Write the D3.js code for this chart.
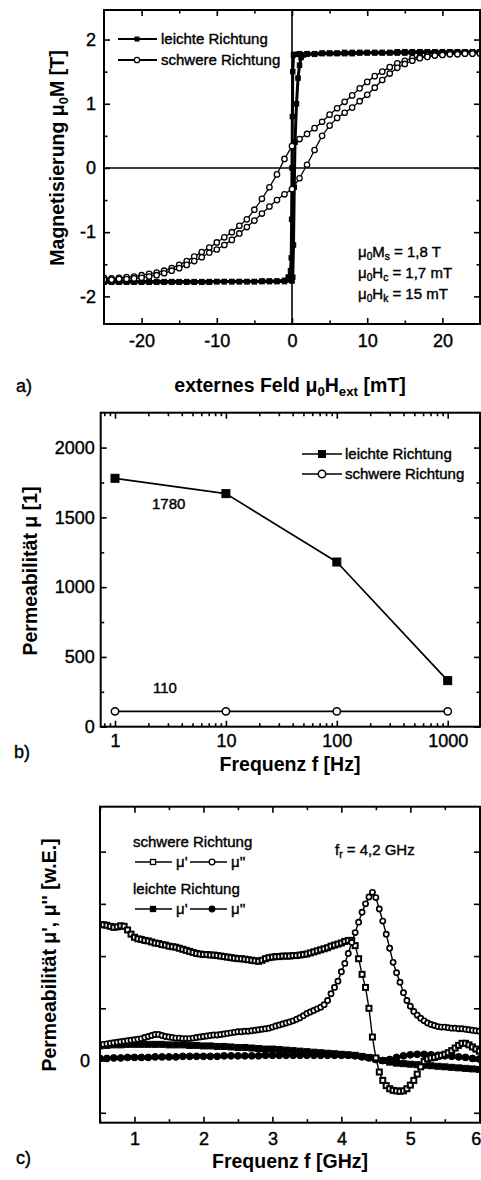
<!DOCTYPE html>
<html>
<head>
<meta charset="utf-8">
<script src="https://cdn.jsdelivr.net/npm/d3@7"></script>
<style>
  body { margin: 0; background: #fff; }
  svg { display: block; }
  text { font-family: "Liberation Sans", Arial, sans-serif; fill: #000; }
  text.reg { stroke: #000; stroke-width: 0.4px; }
</style>
</head>
<body>
<svg id="fig" width="481" height="1180"></svg>
<script>
// ---------- (a) hysteresis loops ----------
// hard axis, field swept down from +25 mT to -25 mT
const hardDescH = [25,24,23,22,21,20,19,18,17,16,15,14,13,12,11,10,9,8,7,6,5,4,3,2,1,0,-1,-2,-3,-4,-5,-6,-7,-8,-9,-10,-11,-12,-13,-14,-15,-16,-17,-18,-19,-20,-21,-22,-23,-24,-25];
const hardDescM = [1.80,1.80,1.79,1.79,1.78,1.77,1.76,1.75,1.73,1.71,1.67,1.63,1.57,1.50,1.43,1.34,1.24,1.13,1.03,0.93,0.83,0.72,0.62,0.53,0.45,0.34,0.14,-0.10,-0.30,-0.48,-0.65,-0.80,-0.90,-1.00,-1.08,-1.16,-1.24,-1.31,-1.38,-1.45,-1.51,-1.56,-1.60,-1.63,-1.65,-1.67,-1.69,-1.70,-1.71,-1.72,-1.71];
// hard axis, field swept up from -25 mT to +25 mT
const hardAscH = [-25,-24,-23,-22,-21,-20,-19,-18,-17,-16,-15,-14,-13,-12,-11,-10,-9,-8,-7,-6,-5,-4,-3,-2,-1,0,1,2,3,4,5,6,7,8,9,10,11,12,13,14,15,16,17,18,19,20,21,22,23,24,25];
const hardAscM = [-1.74,-1.74,-1.73,-1.73,-1.72,-1.71,-1.69,-1.67,-1.64,-1.60,-1.56,-1.51,-1.45,-1.39,-1.32,-1.27,-1.20,-1.12,-1.02,-0.92,-0.82,-0.71,-0.60,-0.50,-0.41,-0.33,-0.16,0.05,0.28,0.50,0.66,0.78,0.86,0.94,1.04,1.14,1.25,1.37,1.47,1.56,1.62,1.67,1.71,1.73,1.75,1.76,1.77,1.77,1.78,1.78,1.78];
// easy axis, field swept down
const easyDescH = [25,24,23,22,21,20,19,18,17,16,15,14,13,12,11,10,9,8,7,6,5,4,3,2,1,0.5,0.2,0.1,0.05,0,-0.05,-0.1,-0.2,-0.5,-1,-2,-3,-4,-5,-6,-7,-8,-9,-10,-11,-12,-13,-14,-15,-16,-17,-18,-19,-20,-21,-22,-23,-24,-25];
const easyDescM = [1.81,1.81,1.81,1.81,1.81,1.81,1.81,1.81,1.81,1.81,1.81,1.81,1.80,1.80,1.80,1.80,1.80,1.80,1.80,1.79,1.79,1.79,1.78,1.78,1.78,1.77,1.76,1.50,0.80,0.00,-0.80,-1.40,-1.60,-1.70,-1.75,-1.76,-1.76,-1.76,-1.77,-1.77,-1.77,-1.77,-1.77,-1.77,-1.77,-1.77,-1.77,-1.77,-1.77,-1.77,-1.77,-1.77,-1.77,-1.77,-1.77,-1.77,-1.77,-1.77,-1.77];
// easy axis, field swept up
const easyAscH = [-25,-24,-23,-22,-21,-20,-19,-18,-17,-16,-15,-14,-13,-12,-11,-10,-9,-8,-7,-6,-5,-4,-3,-2,-1,0,0.1,0.2,0.3,0.4,0.6,0.8,1.0,1.2,1.5,2,3,4,5,6,7,8,9,10,11,12,13,14,15,16,17,18,19,20,21,22,23,24,25];
const easyAscM = [-1.78,-1.78,-1.78,-1.78,-1.78,-1.78,-1.78,-1.78,-1.78,-1.78,-1.78,-1.78,-1.78,-1.78,-1.78,-1.77,-1.77,-1.77,-1.77,-1.77,-1.77,-1.77,-1.77,-1.77,-1.77,-1.76,-1.70,-1.20,-0.30,0.40,1.00,1.40,1.60,1.72,1.76,1.77,1.77,1.78,1.78,1.78,1.78,1.78,1.79,1.79,1.79,1.79,1.79,1.79,1.79,1.79,1.80,1.80,1.80,1.80,1.80,1.80,1.80,1.80,1.80];
const aTicksX = [-20,-10,0,10,20];
const aMinorX = [-15,-5,5,15];
const aTicksY = [-2,-1,0,1,2];
const aMinorY = [-1.5,-0.5,0.5,1.5];

// ---------- (b) low-frequency permeability ----------
const freqHz = [1,10,100,1000];
const muEasyHz = [1780,1670,1180,330];
const muHardHz = [110,110,110,110];
const bTicksX = [1,10,100,1000];
const bTicksY = [0,500,1000,1500,2000];
const bMinorY = [250,750,1250,1750];

// ---------- (c) high-frequency permeability ----------
const fHard = [0.50,0.55,0.60,0.65,0.70,0.75,0.80,0.85,0.90,0.95,1.00,1.05,1.10,1.15,1.20,1.25,1.30,1.35,1.40,1.45,1.50,1.55,1.60,1.65,1.70,1.75,1.80,1.85,1.90,1.95,2.00,2.05,2.10,2.15,2.20,2.25,2.30,2.35,2.40,2.45,2.50,2.55,2.60,2.65,2.70,2.75,2.80,2.85,2.90,2.95,3.00,3.05,3.10,3.15,3.20,3.25,3.30,3.35,3.40,3.45,3.50,3.55,3.60,3.65,3.70,3.75,3.80,3.85,3.90,3.95,4.00,4.05,4.10,4.15,4.20,4.25,4.30,4.35,4.40,4.45,4.50,4.55,4.60,4.65,4.70,4.75,4.80,4.85,4.90,4.95,5.00,5.05,5.10,5.15,5.20,5.25,5.30,5.35,5.40,5.45,5.50,5.55,5.60,5.65,5.70,5.75,5.80,5.85,5.90,5.95,6.00];
const hardMu1 = [2.60,2.60,2.59,2.57,2.55,2.56,2.58,2.57,2.50,2.42,2.36,2.33,2.32,2.30,2.29,2.27,2.25,2.24,2.22,2.21,2.19,2.18,2.17,2.15,2.13,2.11,2.09,2.07,2.05,2.04,2.03,2.03,2.02,2.02,2.01,2.00,1.99,1.98,1.97,1.96,1.95,1.95,1.94,1.93,1.92,1.91,1.90,1.92,1.95,1.97,1.98,1.99,1.99,2.00,2.00,2.00,2.01,2.01,2.02,2.03,2.04,2.06,2.08,2.10,2.12,2.14,2.16,2.19,2.21,2.23,2.25,2.28,2.30,2.30,2.20,1.95,1.65,1.40,1.00,0.45,0.05,-0.22,-0.38,-0.48,-0.54,-0.57,-0.58,-0.59,-0.58,-0.54,-0.47,-0.38,-0.26,-0.12,-0.02,0.03,0.05,0.06,0.08,0.10,0.12,0.15,0.19,0.24,0.29,0.33,0.33,0.30,0.26,0.22,0.18];
const hardMu2 = [0.30,0.31,0.32,0.33,0.34,0.35,0.36,0.37,0.38,0.39,0.40,0.41,0.42,0.44,0.46,0.48,0.50,0.50,0.48,0.46,0.45,0.44,0.43,0.43,0.42,0.42,0.42,0.43,0.44,0.45,0.46,0.47,0.48,0.49,0.49,0.50,0.51,0.52,0.53,0.54,0.55,0.55,0.56,0.56,0.57,0.58,0.59,0.60,0.61,0.62,0.64,0.66,0.68,0.70,0.72,0.74,0.76,0.79,0.82,0.86,0.90,0.93,0.96,0.99,1.02,1.07,1.15,1.28,1.40,1.52,1.70,1.86,2.05,2.26,2.45,2.65,2.84,3.00,3.13,3.22,3.12,2.90,2.67,2.42,2.15,1.88,1.68,1.50,1.30,1.15,1.04,0.94,0.87,0.81,0.76,0.72,0.69,0.67,0.65,0.64,0.64,0.63,0.62,0.62,0.61,0.61,0.60,0.59,0.58,0.57,0.56];
const fEasy = [0.5,0.6,0.7,0.8,0.9,1.0,1.1,1.2,1.3,1.4,1.5,1.6,1.7,1.8,1.9,2.0,2.1,2.2,2.3,2.4,2.5,2.6,2.7,2.8,2.9,3.0,3.1,3.2,3.3,3.4,3.5,3.6,3.7,3.8,3.9,4.0,4.1,4.2,4.3,4.4,4.5,4.6,4.7,4.8,4.9,5.0,5.1,5.2,5.3,5.4,5.5,5.6,5.7,5.8,5.9,6.0];
const easyMu1 = [0.28,0.29,0.30,0.30,0.31,0.31,0.31,0.31,0.31,0.31,0.30,0.30,0.30,0.29,0.29,0.28,0.28,0.27,0.27,0.26,0.25,0.25,0.24,0.23,0.22,0.22,0.21,0.20,0.19,0.18,0.17,0.16,0.15,0.14,0.13,0.12,0.11,0.10,0.08,0.06,0.03,0.00,-0.03,-0.05,-0.06,-0.07,-0.08,-0.09,-0.10,-0.11,-0.12,-0.13,-0.14,-0.15,-0.16,-0.17];
const easyMu2 = [0.04,0.04,0.05,0.05,0.06,0.06,0.06,0.06,0.07,0.07,0.07,0.07,0.08,0.08,0.08,0.08,0.08,0.08,0.09,0.09,0.09,0.09,0.09,0.09,0.10,0.10,0.10,0.10,0.10,0.10,0.10,0.10,0.10,0.10,0.10,0.10,0.10,0.09,0.07,0.05,0.02,0.00,0.02,0.06,0.09,0.11,0.12,0.12,0.11,0.10,0.09,0.08,0.07,0.06,0.04,0.03];
const cTicksX = [1,2,3,4,5,6];
const cMinorX = [0.5,1.5,2.5,3.5,4.5,5.5];
const cTicksY = [-1,0,1,2,3,4];

// ---------- drawing helpers ----------
const svg = d3.select("#fig");
const MAJ = 6, MIN = 3.5;
const plain = v => String(v);   // hyphen-minus, as printed on the axes

function zip(xs, ys) { return xs.map((v, i) => [v, ys[i]]); }

function axes(g, x, y, o) {
  const [x0, x1] = x.range(), [y0, y1] = y.range();
  const strip = a => a.call(s => s.select(".domain").remove());
  // bottom
  g.append("g").attr("transform", `translate(0,${y0})`)
    .call(d3.axisBottom(x).tickValues(o.xMajor).tickSize(-MAJ).tickPadding(o.xPad).tickFormat(o.xFmt))
    .call(strip);
  if (o.xMinor) g.append("g").attr("transform", `translate(0,${y0})`)
    .call(d3.axisBottom(x).tickValues(o.xMinor).tickSize(-MIN).tickFormat("")).call(strip);
  // top
  g.append("g").attr("transform", `translate(0,${y1})`)
    .call(d3.axisTop(x).tickValues(o.xMajor).tickSize(-MAJ).tickFormat("")).call(strip);
  if (o.xMinor) g.append("g").attr("transform", `translate(0,${y1})`)
    .call(d3.axisTop(x).tickValues(o.xMinor).tickSize(-MIN).tickFormat("")).call(strip);
  // left
  g.append("g").attr("transform", `translate(${x0},0)`)
    .call(d3.axisLeft(y).tickValues(o.yMajor).tickSize(-MAJ).tickPadding(o.yPad).tickFormat(o.yFmt))
    .call(strip);
  if (o.yMinor) g.append("g").attr("transform", `translate(${x0},0)`)
    .call(d3.axisLeft(y).tickValues(o.yMinor).tickSize(-MIN).tickFormat("")).call(strip);
  // right
  g.append("g").attr("transform", `translate(${x1},0)`)
    .call(d3.axisRight(y).tickValues(o.yMajor).tickSize(-MAJ).tickFormat("")).call(strip);
  if (o.yMinor) g.append("g").attr("transform", `translate(${x1},0)`)
    .call(d3.axisRight(y).tickValues(o.yMinor).tickSize(-MIN).tickFormat("")).call(strip);
  g.selectAll(".tick line").attr("stroke", "#000").attr("stroke-width", 1.6);
  g.selectAll(".tick text").style("font-size", "18px").attr("fill", "#000").attr("class", "reg")
    .style("font-family", "'Liberation Sans', Arial, sans-serif");
  // frame
  g.append("rect").attr("x", x0).attr("y", y1).attr("width", x1 - x0).attr("height", y0 - y1)
    .attr("fill", "none").attr("stroke", "#000").attr("stroke-width", 2);
}

function line(g, x, y, pts, w) {
  g.append("path").datum(pts)
    .attr("d", d3.line().x(d => x(d[0])).y(d => y(d[1])))
    .attr("fill", "none").attr("stroke", "#000").attr("stroke-width", w || 1.2)
    .attr("stroke-linejoin", "round");
}
function circles(g, x, y, pts, r, filled, sw) {
  g.append("g").selectAll("circle").data(pts).join("circle")
    .attr("cx", d => x(d[0])).attr("cy", d => y(d[1])).attr("r", r)
    .attr("fill", filled ? "#000" : "#fff").attr("stroke", "#000").attr("stroke-width", sw || 1);
}
function squares(g, x, y, pts, s, filled, sw) {
  g.append("g").selectAll("rect").data(pts).join("rect")
    .attr("x", d => x(d[0]) - s / 2).attr("y", d => y(d[1]) - s / 2)
    .attr("width", s).attr("height", s)
    .attr("fill", filled ? "#000" : "#fff").attr("stroke", "#000").attr("stroke-width", sw || 1);
}
function label(g, x, y, parts, size, weight, anchor, rotate) {
  const t = g.append("text").attr("x", x).attr("y", y)
    .style("font-size", size + "px").style("font-weight", weight || "normal")
    .attr("text-anchor", anchor || "start");
  if (!weight) t.attr("class", "reg");
  if (rotate) t.attr("transform", `rotate(${rotate},${x},${y})`);
  parts.forEach(p => {
    const s = t.append("tspan").text(p.t);
    if (p.sub) s.attr("baseline-shift", "-28%").style("font-size", (size * 0.68) + "px");
  });
  return t;
}

// ---------- panel (a) ----------
{
  const g = svg.append("g");
  const x = d3.scaleLinear().domain([-25, 25]).range([104, 480]);
  const y = d3.scaleLinear().domain([-2.43, 2.46]).range([324, 10]);
  g.append("clipPath").attr("id", "clipA").append("rect")
    .attr("x", 104).attr("y", 10).attr("width", 376).attr("height", 314);
  // zero lines
  g.append("line").attr("x1", x(-25)).attr("x2", x(25)).attr("y1", y(0)).attr("y2", y(0))
    .attr("stroke", "#000").attr("stroke-width", 1.6);
  g.append("line").attr("x1", x(0)).attr("x2", x(0)).attr("y1", y(-2.43)).attr("y2", y(2.46))
    .attr("stroke", "#000").attr("stroke-width", 1.6);
  const d = g.append("g").attr("clip-path", "url(#clipA)");
  const eD = zip(easyDescH, easyDescM), eA = zip(easyAscH, easyAscM);
  line(d, x, y, eD, 3); line(d, x, y, eA, 3);
  squares(d, x, y, eD, 4.5, true); squares(d, x, y, eA, 4.5, true);
  const hD = zip(hardDescH, hardDescM), hA = zip(hardAscH, hardAscM);
  line(d, x, y, hD, 1.3); line(d, x, y, hA, 1.3);
  circles(d, x, y, hD, 2.7, false, 1.3); circles(d, x, y, hA, 2.7, false, 1.3);
  axes(g, x, y, { xMajor: aTicksX, xMinor: aMinorX, yMajor: aTicksY, yMinor: aMinorY,
    xPad: 10, yPad: 8, xFmt: plain, yFmt: plain });
  // legend
  const lg = g.append("g");
  [[39, true], [60, false]].forEach(([yy, filled]) => {
    lg.append("line").attr("x1", 118).attr("x2", 157).attr("y1", yy).attr("y2", yy)
      .attr("stroke", "#000").attr("stroke-width", 1.8);
    if (filled) lg.append("rect").attr("x", 134.5).attr("y", yy - 2.5).attr("width", 5).attr("height", 5);
    else lg.append("circle").attr("cx", 137).attr("cy", yy).attr("r", 2.7)
      .attr("fill", "#fff").attr("stroke", "#000").attr("stroke-width", 1.3);
  });
  label(g, 161, 44, [{ t: "leichte Richtung" }], 15);
  label(g, 161, 65, [{ t: "schwere Richtung" }], 15);
  label(g, 358, 257, [{ t: "μ" }, { t: "0", sub: 1 }, { t: "M" }, { t: "s", sub: 1 }, { t: " = 1,8 T" }], 15);
  label(g, 358, 278, [{ t: "μ" }, { t: "0", sub: 1 }, { t: "H" }, { t: "c", sub: 1 }, { t: " = 1,7 mT" }], 15);
  label(g, 358, 299, [{ t: "μ" }, { t: "0", sub: 1 }, { t: "H" }, { t: "k", sub: 1 }, { t: " = 15 mT" }], 15);
  label(g, 290, 392, [{ t: "externes Feld μ" }, { t: "0", sub: 1 }, { t: "H" }, { t: "ext", sub: 1 }, { t: " [mT]" }], 19.5, "bold", "middle");
  label(g, 64, 158, [{ t: "Magnetisierung μ" }, { t: "0", sub: 1 }, { t: "M [T]" }], 19.5, "bold", "middle", -90);
  label(g, 16, 392, [{ t: "a)" }], 18);
}

// ---------- panel (b) ----------
{
  const g = svg.append("g");
  const x = d3.scaleLog().domain([0.743, 1955]).range([100.7, 480]);
  const y = d3.scaleLinear().domain([0, 2250]).range([726.7, 412.7]);
  const minorX = [];
  [0.1, 1, 10, 100, 1000].forEach(p => d3.range(2, 10).forEach(k => {
    const v = p * k; if (v > 0.743 && v < 1955) minorX.push(v);
  }));
  axes(g, x, y, { xMajor: bTicksX, xMinor: minorX, yMajor: bTicksY, yMinor: bMinorY,
    xPad: 8, yPad: 6, xFmt: plain, yFmt: plain });
  const e = zip(freqHz, muEasyHz), h = zip(freqHz, muHardHz);
  line(g, x, y, e, 1.7); line(g, x, y, h, 1.7);
  squares(g, x, y, e, 8, true);
  circles(g, x, y, h, 3.7, false, 1.5);
  // legend
  g.append("line").attr("x1", 302).attr("x2", 342).attr("y1", 454).attr("y2", 454).attr("stroke", "#000").attr("stroke-width", 1.7);
  g.append("rect").attr("x", 318).attr("y", 450).attr("width", 8).attr("height", 8);
  g.append("line").attr("x1", 302).attr("x2", 342).attr("y1", 474).attr("y2", 474).attr("stroke", "#000").attr("stroke-width", 1.7);
  g.append("circle").attr("cx", 322).attr("cy", 474).attr("r", 3.7).attr("fill", "#fff").attr("stroke", "#000").attr("stroke-width", 1.5);
  label(g, 345, 459, [{ t: "leichte Richtung" }], 15);
  label(g, 345, 479, [{ t: "schwere Richtung" }], 15);
  label(g, 152, 509, [{ t: String(muEasyHz[0]) }], 15);
  label(g, 153, 693, [{ t: String(muHardHz[0]) }], 15);
  label(g, 290, 771, [{ t: "Frequenz f [Hz]" }], 19.5, "bold", "middle");
  label(g, 37, 571, [{ t: "Permeabilität μ [1]" }], 19.5, "bold", "middle", -90);
  label(g, 14, 758, [{ t: "b)" }], 18);
}

// ---------- panel (c) ----------
{
  const g = svg.append("g");
  const x = d3.scaleLinear().domain([0.5, 6.01]).range([100, 480]);
  const y = d3.scaleLinear().domain([-1.19, 4.86]).range([1122.7, 806.7]);
  g.append("clipPath").attr("id", "clipC").append("rect")
    .attr("x", 100).attr("y", 806.7).attr("width", 380).attr("height", 316);
  const d = g.append("g").attr("clip-path", "url(#clipC)");
  const e1 = zip(fEasy, easyMu1), e2 = zip(fEasy, easyMu2);
  line(d, x, y, e1, 3.5); line(d, x, y, e2, 3.5);
  squares(d, x, y, e1, 6, true); circles(d, x, y, e2, 3.4, true);
  const h1 = zip(fHard, hardMu1), h2 = zip(fHard, hardMu2);
  line(d, x, y, h1, 1.4); line(d, x, y, h2, 1.4);
  squares(d, x, y, h1, 5, false, 2);
  circles(d, x, y, h2, 2.6, false, 1.7);
  axes(g, x, y, { xMajor: cTicksX, xMinor: cMinorX, yMajor: cTicksY, yMinor: null,
    xPad: 10, yPad: 10, xFmt: plain, yFmt: v => (v === 0 ? "0" : "") });
  // last tick label sits flush against the right border
  g.selectAll(".tick text").filter(v => v === 6).attr("text-anchor", "end").attr("x", 1.5);
  // legend
  label(g, 133, 847, [{ t: "schwere Richtung" }], 15);
  label(g, 133, 894, [{ t: "leichte Richtung" }], 15);
  const rows = [[862, false], [909, true]];
  rows.forEach(([yy, filled]) => {
    [[135, 172], [190, 227]].forEach(([a, b]) => g.append("line").attr("x1", a).attr("x2", b)
      .attr("y1", yy).attr("y2", yy).attr("stroke", "#000").attr("stroke-width", 1.7));
    g.append("rect").attr("x", 150.5).attr("y", yy - 2.5).attr("width", 5).attr("height", 5)
      .attr("fill", filled ? "#000" : "#fff").attr("stroke", "#000").attr("stroke-width", 1.3);
    g.append("circle").attr("cx", 212).attr("cy", yy).attr("r", 2.8)
      .attr("fill", filled ? "#000" : "#fff").attr("stroke", "#000").attr("stroke-width", 1.3);
    label(g, 176, yy + 5, [{ t: "μ'" }], 15);
    label(g, 231, yy + 5, [{ t: "μ''" }], 15);
  });
  label(g, 335, 855, [{ t: "f" }, { t: "r", sub: 1 }, { t: " = 4,2 GHz" }], 15);
  label(g, 290, 1168, [{ t: "Frequenz f [GHz]" }], 19.5, "bold", "middle");
  label(g, 56, 955, [{ t: "Permeabilität μ', μ'' [w.E.]" }], 19.5, "bold", "middle", -90);
  label(g, 16, 1164, [{ t: "c)" }], 18);
}
</script>
</body>
</html>
